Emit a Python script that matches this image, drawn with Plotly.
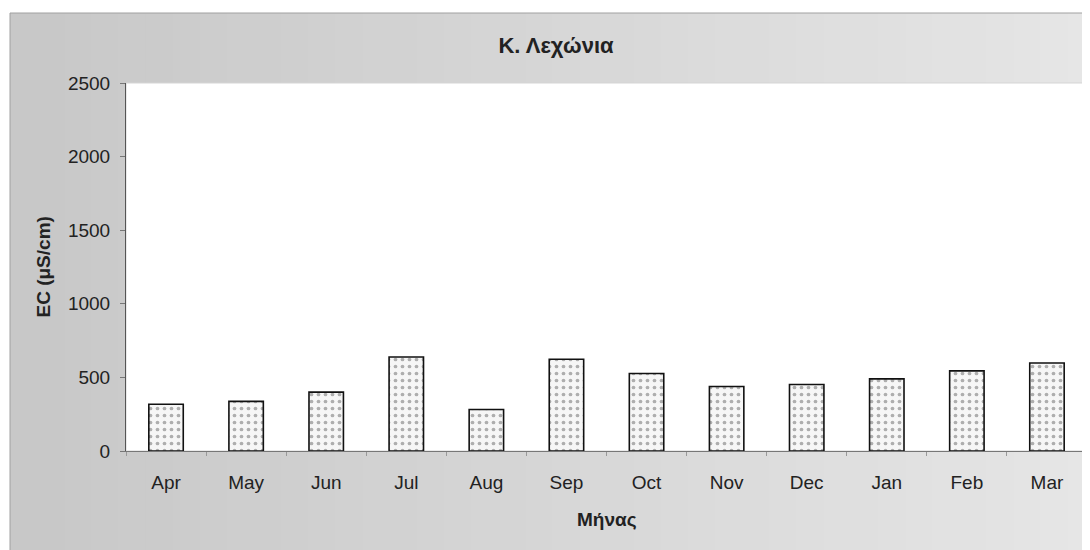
import plotly.graph_objects as go

months = ["Apr", "May", "Jun", "Jul", "Aug", "Sep", "Oct", "Nov", "Dec", "Jan", "Feb", "Mar"]
ec_values = [318, 337, 400, 639, 282, 623, 526, 438, 452, 490, 544, 598]
y_ticks = [0, 500, 1000, 1500, 2000, 2500]

# page has an 8px body margin, so the figure is sized/offset accordingly
W, H = 1082, 542
L, R, T, B = 118, 3, 75, 99
PW, PH = W - L - R, H - T - B
FONT = "Liberation Sans, Arial, sans-serif"


def px(fx):
    return (fx - L) / PW


def py(fy):
    return (H - B - fy) / PH


fig = go.Figure()
fig.add_trace(go.Bar(
    x=months, y=ec_values,
    marker=dict(
        color="#f4f4f4",
        line=dict(color="#111111", width=1.6),
        pattern=dict(shape=".", fgcolor="#666666", bgcolor="#f6f6f6", size=7, solidity=0.22),
    ),
    width=0.43,
))

shapes = []
bx0, bx1, by0, by1 = px(2), px(W + 5), py(H + 5), py(5)
n = 40
c0, c1 = 200, 230
for i in range(n):
    g = int(c0 + (c1 - c0) * i / (n - 1))
    shapes.append(dict(
        type="rect", xref="paper", yref="paper", layer="below",
        x0=bx0 + (bx1 - bx0) * i / n, x1=bx0 + (bx1 - bx0) * (i + 1) / n + 0.002,
        y0=by0, y1=by1, fillcolor=f"rgb({g},{g},{g})", line=dict(width=0),
    ))
# chart box outline
shapes.append(dict(type="rect", xref="paper", yref="paper", layer="below",
                   x0=bx0, x1=bx1, y0=by0, y1=by1, fillcolor="rgba(0,0,0,0)",
                   line=dict(color="#a0a0a0", width=1)))
# white plot area over the gradient
shapes.append(dict(type="rect", xref="paper", yref="paper", layer="below",
                   x0=0, x1=1, y0=0, y1=1, fillcolor="white",
                   line=dict(color="#d5d5d5", width=1)))

annotations = [
    dict(text="<b>EC (μS/cm)</b>", xref="paper", yref="paper", x=px(34.5), y=0.5,
         textangle=-90, showarrow=False, xanchor="center", yanchor="middle",
         font=dict(family=FONT, size=19, color="#222222")),
    dict(text="<b>Μήνας</b>", xref="paper", yref="paper", x=px(599), y=py(511),
         showarrow=False, xanchor="center", yanchor="middle",
         font=dict(family=FONT, size=19, color="#222222")),
]

fig.update_layout(
    width=W, height=H,
    paper_bgcolor="white", plot_bgcolor="rgba(0,0,0,0)",
    margin=dict(l=L, r=R, t=T, b=B),
    font=dict(family=FONT, size=19, color="#222222"),
    showlegend=False,
    shapes=shapes,
    annotations=annotations,
    title=dict(text="<b>Κ. Λεχώνια</b>", x=548 / W, xanchor="center", y=1 - 37 / H, yanchor="middle",
               font=dict(family=FONT, size=22, color="#222222")),
    xaxis=dict(
        showgrid=False, showline=True, linecolor="#777777", linewidth=1,
        ticks="outside", tickson="boundaries", ticklen=4, tickcolor="#999999",
        ticklabelstandoff=14,
    ),
    yaxis=dict(
        range=[0, 2500], tickvals=y_ticks, showgrid=False, zeroline=False,
        showline=True, linecolor="#555555", linewidth=1,
        ticks="outside", ticklen=5, tickcolor="#777777",
        ticklabelstandoff=6,
    ),
)

fig.write_html("out.html")
